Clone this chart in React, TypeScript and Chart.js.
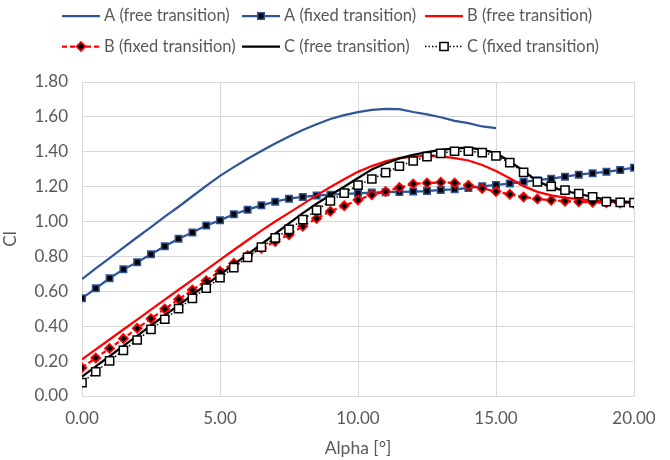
import React, { useEffect, useRef } from 'react';
import { Chart, registerables } from 'chart.js';

Chart.register(...registerables);

// ---- data ----
const ALPHA = [
  0, 0.5, 1, 1.5, 2, 2.5, 3, 3.5, 4, 4.5, 5, 5.5, 6, 6.5, 7, 7.5, 8, 8.5, 9, 9.5, 10,
  10.5, 11, 11.5, 12, 12.5, 13, 13.5, 14, 14.5, 15, 15.5, 16, 16.5, 17, 17.5, 18, 18.5, 19, 19.5, 20,
];
const ALPHA_A_FREE = [
  0, 0.5, 1, 1.5, 2, 2.5, 3, 3.5, 4, 4.5, 5, 5.5, 6, 6.5, 7, 7.5, 8, 8.5, 9, 9.5, 10,
  10.5, 11, 11.5, 12, 12.5, 13, 13.5, 14, 14.5, 15,
];

const A_FREE = [
  0.670, 0.731, 0.790, 0.850, 0.910, 0.968, 1.028, 1.085, 1.145, 1.205, 1.262, 1.312, 1.360, 1.405,
  1.447, 1.488, 1.525, 1.558, 1.588, 1.610, 1.627, 1.640, 1.646, 1.644, 1.628, 1.614, 1.598, 1.577,
  1.564, 1.545, 1.535,
];
const A_FIXED = [
  0.560, 0.617, 0.675, 0.726, 0.767, 0.812, 0.858, 0.902, 0.937, 0.977, 1.007, 1.042, 1.068, 1.093,
  1.114, 1.131, 1.141, 1.149, 1.154, 1.158, 1.162, 1.166, 1.168, 1.170, 1.172, 1.175, 1.181, 1.185,
  1.193, 1.202, 1.210, 1.218, 1.228, 1.237, 1.246, 1.257, 1.269, 1.277, 1.285, 1.296, 1.309,
];
const B_FREE = [
  0.210, 0.267, 0.324, 0.381, 0.438, 0.495, 0.552, 0.609, 0.666, 0.723, 0.780, 0.837, 0.893, 0.948,
  1.000, 1.050, 1.100, 1.150, 1.198, 1.243, 1.285, 1.318, 1.345, 1.363, 1.372, 1.376, 1.374, 1.364,
  1.350, 1.324, 1.290, 1.248, 1.203, 1.170, 1.150, 1.137, 1.128, 1.120, 1.115, 1.110, 1.108,
];
const B_FIXED = [
  0.162, 0.218, 0.273, 0.329, 0.388, 0.443, 0.499, 0.554, 0.608, 0.661, 0.715, 0.761, 0.805, 0.847,
  0.885, 0.925, 0.973, 1.018, 1.059, 1.090, 1.124, 1.153, 1.172, 1.195, 1.216, 1.221, 1.225, 1.221,
  1.208, 1.190, 1.172, 1.156, 1.141, 1.130, 1.122, 1.117, 1.113, 1.110, 1.108, 1.106, 1.105,
];
const C_FREE = [
  0.111, 0.170, 0.228, 0.287, 0.345, 0.404, 0.462, 0.521, 0.579, 0.638, 0.696, 0.754, 0.812, 0.870,
  0.930, 0.990, 1.048, 1.102, 1.152, 1.200, 1.250, 1.298, 1.333, 1.362, 1.382, 1.398, 1.411, 1.420,
  1.424, 1.412, 1.392, 1.345, 1.290, 1.232, 1.196, 1.175, 1.158, 1.142, 1.124, 1.116, 1.112,
];
const C_FIXED = [
  0.077, 0.139, 0.201, 0.262, 0.321, 0.382, 0.440, 0.501, 0.560, 0.618, 0.678, 0.736, 0.795, 0.853,
  0.906, 0.955, 1.011, 1.065, 1.119, 1.163, 1.209, 1.244, 1.280, 1.317, 1.347, 1.372, 1.391, 1.403,
  1.403, 1.395, 1.376, 1.338, 1.282, 1.227, 1.202, 1.180, 1.160, 1.141, 1.114, 1.110, 1.108,
];

const SERIES_LABELS = [
  'A (free transition)',
  'A (fixed transition)',
  'B (free transition)',
  'B (fixed transition)',
  'C (free transition)',
  'C (fixed transition)',
];

const X_TITLE = 'Alpha [°]';
const Y_TITLE = 'Cl';

// ---- styles ----
const FONT_FAMILY = 'Lato, "Open Sans", sans-serif';
const FONT_SIZE = 17;
const LEGEND_FONT_SIZE = 16.5;
const TEXT_COLOR = '#595959';
const GRID_COLOR = '#d9d9d9';
const BLUE = '#2F5597';
const RED = '#FF0000';
const BLACK = '#000000';

const pts = (xs: number[], ys: number[]) => xs.map((x, i) => ({ x, y: ys[i] }));

function drawMarker(
  ctx: CanvasRenderingContext2D,
  style: string,
  x: number,
  y: number,
  r: number,
  fill: string,
  stroke: string,
  bw: number
) {
  ctx.beginPath();
  if (style === 'rectRot') {
    ctx.moveTo(x - r, y);
    ctx.lineTo(x, y - r);
    ctx.lineTo(x + r, y);
    ctx.lineTo(x, y + r);
    ctx.closePath();
  } else {
    const s = Math.SQRT1_2 * r;
    ctx.rect(x - s, y - s, 2 * s, 2 * s);
  }
  ctx.fillStyle = fill;
  ctx.fill();
  ctx.lineWidth = bw;
  ctx.strokeStyle = stroke;
  ctx.setLineDash([]);
  ctx.stroke();
}

const excelLegend = {
  id: 'excelLegend',
  afterDraw(chart: any) {
    const ctx: CanvasRenderingContext2D = chart.ctx;
    const cols = [62, 242, 425];
    const rows = [16, 46.5];
    chart.data.datasets.forEach((ds: any, i: number) => {
      const x0 = cols[i % 3];
      const y = rows[Math.floor(i / 3)];
      ctx.save();
      ctx.strokeStyle = ds.borderColor;
      ctx.lineWidth = ds.borderWidth;
      ctx.setLineDash(ds.borderDash || []);
      ctx.beginPath();
      ctx.moveTo(x0, y);
      ctx.lineTo(x0 + 38, y);
      ctx.stroke();
      if (ds.pointRadius > 0) {
        drawMarker(ctx, ds.pointStyle, x0 + 19, y, ds.pointRadius, ds.pointBackgroundColor, ds.pointBorderColor, ds.pointBorderWidth);
      }
      ctx.fillStyle = TEXT_COLOR;
      ctx.font = `${LEGEND_FONT_SIZE}px ${FONT_FAMILY}`;
      ctx.textBaseline = 'middle';
      ctx.textAlign = 'left';
      ctx.fillText(ds.label, x0 + 42, y);
      ctx.restore();
    });
  },
};

export default function App() {
  const ref = useRef<HTMLCanvasElement | null>(null);

  useEffect(() => {
    if (!ref.current) return;
    const font = { family: FONT_FAMILY, size: FONT_SIZE };
    const chart = new Chart(ref.current, {
      type: 'line',
      data: {
        datasets: [
          {
            label: SERIES_LABELS[0],
            data: pts(ALPHA_A_FREE, A_FREE),
            borderColor: BLUE,
            borderWidth: 2.25,
            pointRadius: 0,
            order: 6,
          },
          {
            label: SERIES_LABELS[1],
            data: pts(ALPHA, A_FIXED),
            borderColor: BLUE,
            borderWidth: 2.25,
            pointStyle: 'rect',
            pointRadius: 4.6,
            pointBackgroundColor: '#000000',
            pointBorderColor: BLUE,
            pointBorderWidth: 1.5,
            order: 5,
          },
          {
            label: SERIES_LABELS[2],
            data: pts(ALPHA, B_FREE),
            borderColor: RED,
            borderWidth: 2.25,
            pointRadius: 0,
            order: 4,
          },
          {
            label: SERIES_LABELS[3],
            data: pts(ALPHA, B_FIXED),
            borderColor: RED,
            borderWidth: 2.25,
            borderDash: [5, 3],
            pointStyle: 'rectRot',
            pointRadius: 4.5,
            pointBackgroundColor: '#000000',
            pointBorderColor: RED,
            pointBorderWidth: 1.75,
            order: 3,
          },
          {
            label: SERIES_LABELS[4],
            data: pts(ALPHA, C_FREE),
            borderColor: BLACK,
            borderWidth: 2.25,
            pointRadius: 0,
            order: 2,
          },
          {
            label: SERIES_LABELS[5],
            data: pts(ALPHA, C_FIXED),
            borderColor: BLACK,
            borderWidth: 1.5,
            borderDash: [1.5, 2],
            pointStyle: 'rect',
            pointRadius: 5.8,
            pointBackgroundColor: '#ffffff',
            pointBorderColor: BLACK,
            pointBorderWidth: 1.5,
            order: 1,
          },
        ] as any,
      },
      options: {
        animation: false,
        responsive: false,
        devicePixelRatio: 1,
        layout: { padding: { top: 82, right: 36, left: 0, bottom: 0 } },
        plugins: {
          legend: { display: false },
          tooltip: { enabled: false },
        },
        elements: { line: { tension: 0 } },
        scales: {
          x: {
            type: 'linear',
            min: 0,
            max: 20,
            ticks: {
              stepSize: 5,
              callback: (v: any) => Number(v).toFixed(2),
              color: TEXT_COLOR,
              font,
              padding: 12,
              maxRotation: 0,
              autoSkip: false,
            },
            grid: { color: GRID_COLOR, drawTicks: false, lineWidth: 1 },
            border: { color: GRID_COLOR, width: 1 },
            title: {
              display: true,
              text: X_TITLE,
              color: TEXT_COLOR,
              font: { family: FONT_FAMILY, size: 17.5 },
              padding: { top: 0, bottom: 1 },
            },
            afterFit: (s: any) => {
              s.height = 64;
            },
          },
          y: {
            type: 'linear',
            min: 0,
            max: 1.8,
            ticks: {
              stepSize: 0.2,
              callback: (v: any) => Number(v).toFixed(2),
              color: TEXT_COLOR,
              font,
              padding: 14,
            },
            grid: { color: GRID_COLOR, drawTicks: false, lineWidth: 1 },
            border: { color: GRID_COLOR, width: 1 },
            title: {
              display: true,
              text: Y_TITLE,
              color: TEXT_COLOR,
              font,
              padding: { top: 0, bottom: 0 },
            },
            afterFit: (s: any) => {
              s.width = 82;
            },
          },
        },
      } as any,
      plugins: [excelLegend],
    });
    return () => chart.destroy();
  }, []);

  return (
    <div style={{ position: 'absolute', left: 0, top: 0, width: 670, height: 460, background: '#fff' }}>
      <canvas ref={ref} width={670} height={460} style={{ display: 'block' }} />
    </div>
  );
}
